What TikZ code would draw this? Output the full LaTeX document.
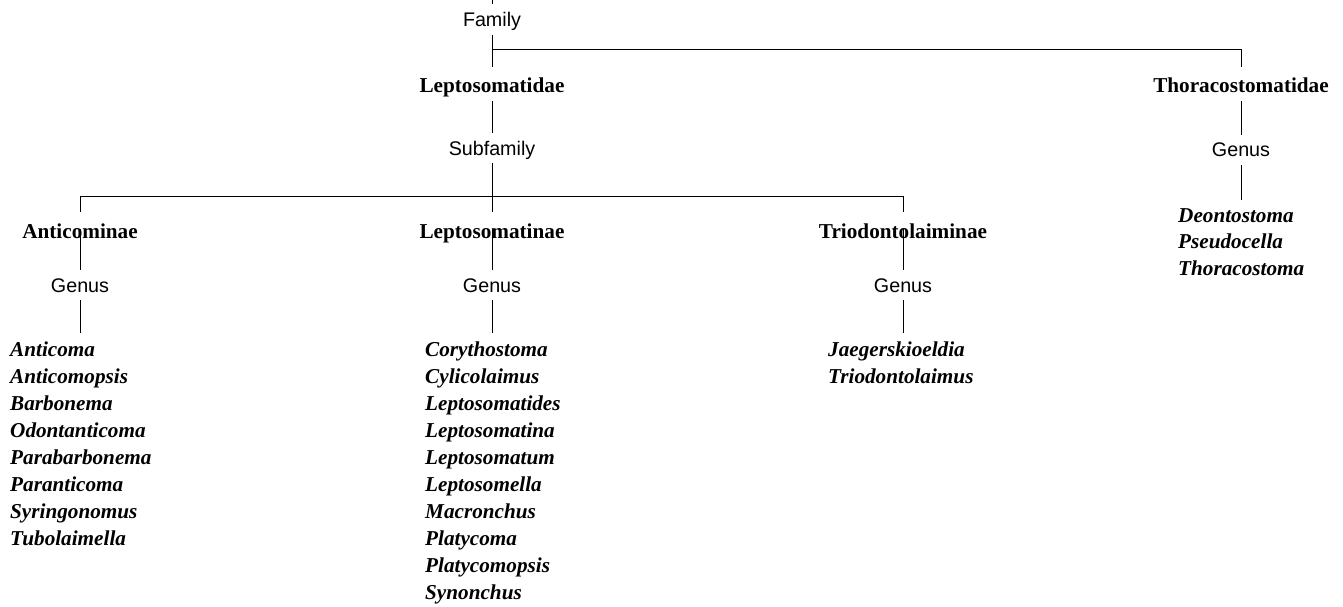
\documentclass[tikz,border=0pt]{standalone}
\usepackage{fontspec}
\setmainfont{Liberation Serif}
\setsansfont{Liberation Sans}
\usepackage{tikz}

\tikzset{
  rank/.style={font=\sffamily\fontsize{19.7}{24}\selectfont, anchor=base, inner xsep=0pt, inner ysep=8pt, text height=14pt, text depth=0pt},
  taxon/.style={font=\bfseries\fontsize{21.2}{27}\selectfont, anchor=base, inner xsep=0pt, inner ysep=8pt, text height=18pt, text depth=0pt},
  genname/.style={font=\bfseries\itshape\fontsize{21.2}{27}\selectfont, anchor=base west, inner xsep=0pt, inner ysep=8pt},
  link/.style={line width=1pt},
}

\begin{document}
\begin{tikzpicture}[x=1pt,y=-1pt]
		\useasboundingbox (0,0) rectangle (1343,607);

		% family level
		\coordinate (top) at (492,0);
		\node [rank] (fam) at (492,26.5) {Family};
		\node [taxon] (lepd) at (492,93) {Leptosomatidae};
		\node [taxon] (thor) at (1241,93) {Thoracostomatidae};
		\coordinate (fbar) at (492,50);

		% subfamily level
		\node [rank] (subf) at (492,155) {Subfamily};
		\node [taxon] (anti) at (80,238) {Anticominae};
		\node [taxon] (lepm) at (492,238) {Leptosomatinae};
		\node [taxon] (trio) at (903,238) {Triodontolaiminae};
		\coordinate (sbar) at (492,196);

		% genus level
		\node [rank] (agen) at (80,292) {Genus};
		\node [rank] (mgen) at (492,292) {Genus};
		\node [rank] (tgen) at (903,292) {Genus};
		\node [rank] (hgen) at (1241,157) {Genus};

		\node [genname] (a1) at (10,356) {Anticoma};
		\node [genname] (a2) at (10,383) {Anticomopsis};
		\node [genname] (a3) at (10,410) {Barbonema};
		\node [genname] (a4) at (10,437) {Odontanticoma};
		\node [genname] (a5) at (10,464) {Parabarbonema};
		\node [genname] (a6) at (10,491) {Paranticoma};
		\node [genname] (a7) at (10,518) {Syringonomus};
		\node [genname] (a8) at (10,545) {Tubolaimella};

		\node [genname] (m1) at (425,356) {Corythostoma};
		\node [genname] (m2) at (425,383) {Cylicolaimus};
		\node [genname] (m3) at (425,410) {Leptosomatides};
		\node [genname] (m4) at (425,437) {Leptosomatina};
		\node [genname] (m5) at (425,464) {Leptosomatum};
		\node [genname] (m6) at (425,491) {Leptosomella};
		\node [genname] (m7) at (425,518) {Macronchus};
		\node [genname] (m8) at (425,545) {Platycoma};
		\node [genname] (m9) at (425,572) {Platycomopsis};
		\node [genname] (m10) at (425,599) {Synonchus};

		\node [genname] (t1) at (828,356) {Jaegerskioeldia};
		\node [genname] (t2) at (828,383) {Triodontolaimus};

		\node [genname] (h1) at (1178,222) {Deontostoma};
		\node [genname] (h2) at (1178,248.5) {Pseudocella};
		\node [genname] (h3) at (1178,275) {Thoracostoma};

		% connectors
		\draw [link] (top) -- (fam.north);
		\draw [link] (fam.south) -- (lepd.north);
		\draw [link] (fbar) -| (thor.north);
		\draw [link] (lepd.south) -- (subf.north);
		\draw [link] (subf.south) -- (lepm.north);
		\draw [link] (anti.north) -- (anti.north |- sbar) -- (trio.north |- sbar) -- (trio.north);
		\draw [link] (thor.south) -- (hgen.north);
		\draw [link] (hgen.south) -- (hgen.south |- h1.north);

		\draw [link] (anti.center) -- (agen.north);
		\draw [link] (lepm.center) -- (mgen.north);
		\draw [link] (trio.center) -- (tgen.north);
		\draw [link] (agen.south) -- (agen.south |- a1.north);
		\draw [link] (mgen.south) -- (mgen.south |- m1.north);
		\draw [link] (tgen.south) -- (tgen.south |- t1.north);

\end{tikzpicture}
\end{document}
